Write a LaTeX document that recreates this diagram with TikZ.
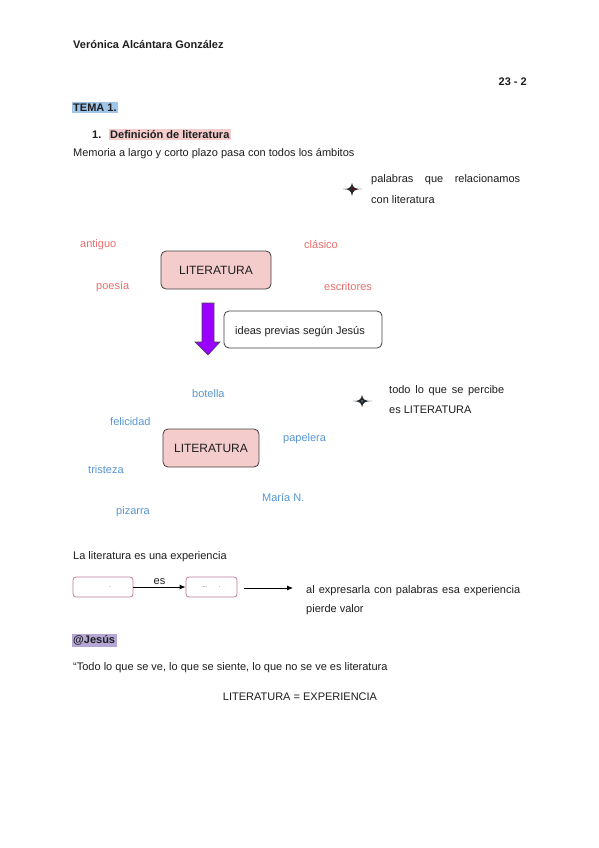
\documentclass[tikz,border=0pt]{standalone}
\usepackage{fontspec}
\setmainfont{Liberation Sans}
\usetikzlibrary{arrows.meta}
\definecolor{redw}{RGB}{234,110,110}
\definecolor{bluew}{RGB}{88,150,210}
\definecolor{pinkf}{RGB}{244,204,204}
\definecolor{hlblue}{RGB}{159,197,232}
\definecolor{hlpurple}{RGB}{180,167,214}
\definecolor{boxb}{RGB}{194,123,160}
\definecolor{violetf}{RGB}{153,0,255}
\definecolor{txt}{RGB}{30,30,30}
\tikzset{
  txt/.style={inner sep=0pt, anchor=west, yshift=-1.5pt, font=\fontsize{11}{13}\selectfont, text=txt},
  bold/.style={txt, font=\fontsize{11}{13}\selectfont\bfseries},
  redword/.style={txt, text=redw},
  blueword/.style={txt, text=bluew},
  litbox/.style={draw=black!75, fill=pinkf, rounded corners=5pt, line width=0.8pt, font=\fontsize{12}{14}\selectfont, text=txt},
  ideabox/.style={draw=black!75, fill=white, rounded corners=5pt, line width=0.8pt},
  smallbox/.style={draw=boxb, fill=white, rounded corners=3pt, line width=0.8pt, minimum width=60pt, minimum height=20pt, inner sep=0pt},
  arr/.style={-{Latex[length=6pt,width=5pt]}, line width=0.8pt, black},
  starpath/.style={fill=black!85}
}
\begin{document}
\begin{tikzpicture}[x=1pt,y=-1pt]
\useasboundingbox (0,0) rectangle (599,848);
\fill[white] (0,0) rectangle (599,848);

% header
\node[bold] (author) at (73,43) {Verónica Alcántara González};
\node[bold, anchor=east] (num) at (527,80) {23 - 2};
\node[bold, fill=hlblue, inner sep=1.5pt] (tema) at (71.5,106) {TEMA 1.};
\node[bold] (n1) at (92,133) {1.};
\node[bold, fill=pinkf, inner sep=1.5pt] (def) at (108.5,133) {Definición de literatura};
\node[txt] (mem) at (73,152) {Memoria a largo y corto plazo pasa con todos los ámbitos};

% star 1
\fill[starpath] (343,189) .. controls (349,189) and (351,188) .. (352,183) .. controls (353,188) and (355,189) .. (362,189) .. controls (355,189.5) and (353,190) .. (352,196) .. controls (351,190) and (349,189.5) .. cycle;
\fill[red!70!black] (352,189) circle (0.9);
\node[txt] (pal1) at (371,178) {\makebox[149pt][s]{palabras que relacionamos}};
\node[txt] (pal2) at (371,198) {con literatura};

% first group
\node[redword] (antiguo) at (80,243) {antiguo};
\node[redword] (clasico) at (304,243) {clásico};
\node[redword] (poesia) at (96,285) {poesía};
\node[redword] (escritores) at (324,285) {escritores};
\node[litbox, minimum width=110pt, minimum height=38pt] (lit1) at (216,270) {LITERATURA};

% purple arrow
\filldraw[fill=violetf, draw=black!70, line width=0.6pt] (202,303) -- (214,303) -- (214,342) -- (220,342) -- (208,355) -- (195,342) -- (202,342) -- cycle;
\node[ideabox, minimum width=158pt, minimum height=37pt] (ideas) at (303,329.5) {};
\node[txt] (ideastxt) at (235,330) {ideas previas según Jesús};

% second group
\node[blueword] (botella) at (192,392) {botella};
\node[blueword] (felicidad) at (110,420) {felicidad};
\node[blueword] (papelera) at (283,437) {papelera};
\node[blueword] (tristeza) at (88,468) {tristeza};
\node[blueword] (maria) at (262,496) {María N.};
\node[blueword] (pizarra) at (116,510) {pizarra};
\node[litbox, minimum width=96pt, minimum height=38pt] (lit2) at (211,448) {LITERATURA};

% star 2
\fill[starpath] (353,401) .. controls (359,401) and (361,400) .. (362,395) .. controls (363,400) and (365,401) .. (372,401) .. controls (365,401.5) and (363,402) .. (362,407) .. controls (361,402) and (359,401.5) .. cycle;
\fill[bluew] (362,401) circle (0.9);
\node[txt] (tod1) at (389,389) {\makebox[115pt][s]{todo lo que se percibe}};
\node[txt] (tod2) at (389,408) {es LITERATURA};

% experience
\node[txt] (lae) at (73,555) {La literatura es una experiencia};
\node[smallbox] (boxa) at (103,587) {\hspace{14pt}\tiny .};
\node[smallbox, minimum width=51pt] (boxb) at (211.5,587) {\tiny ...\hspace{12pt}.};
\draw[arr] (boxa) -- node[above=-1pt, font=\fontsize{11}{13}\selectfont, text=txt] (es) {es} (boxb);
\coordinate (fa) at (244,588);
\coordinate (fb) at (293,588);
\draw[arr] (fa) -- (fb);
\node[txt] (exp1) at (306,589) {\makebox[214pt][s]{al expresarla con palabras esa experiencia}};
\node[txt] (exp2) at (306,608) {pierde valor};

\node[bold, fill=hlpurple, inner sep=1.5pt] (jesus) at (71.5,639) {@Jesús};
\node[txt] (quote) at (73,666) {“Todo lo que se ve, lo que se siente, lo que no se ve es literatura};
\node[txt, anchor=center] (eq) at (300,695) {LITERATURA = EXPERIENCIA};
\end{tikzpicture}
\end{document}
